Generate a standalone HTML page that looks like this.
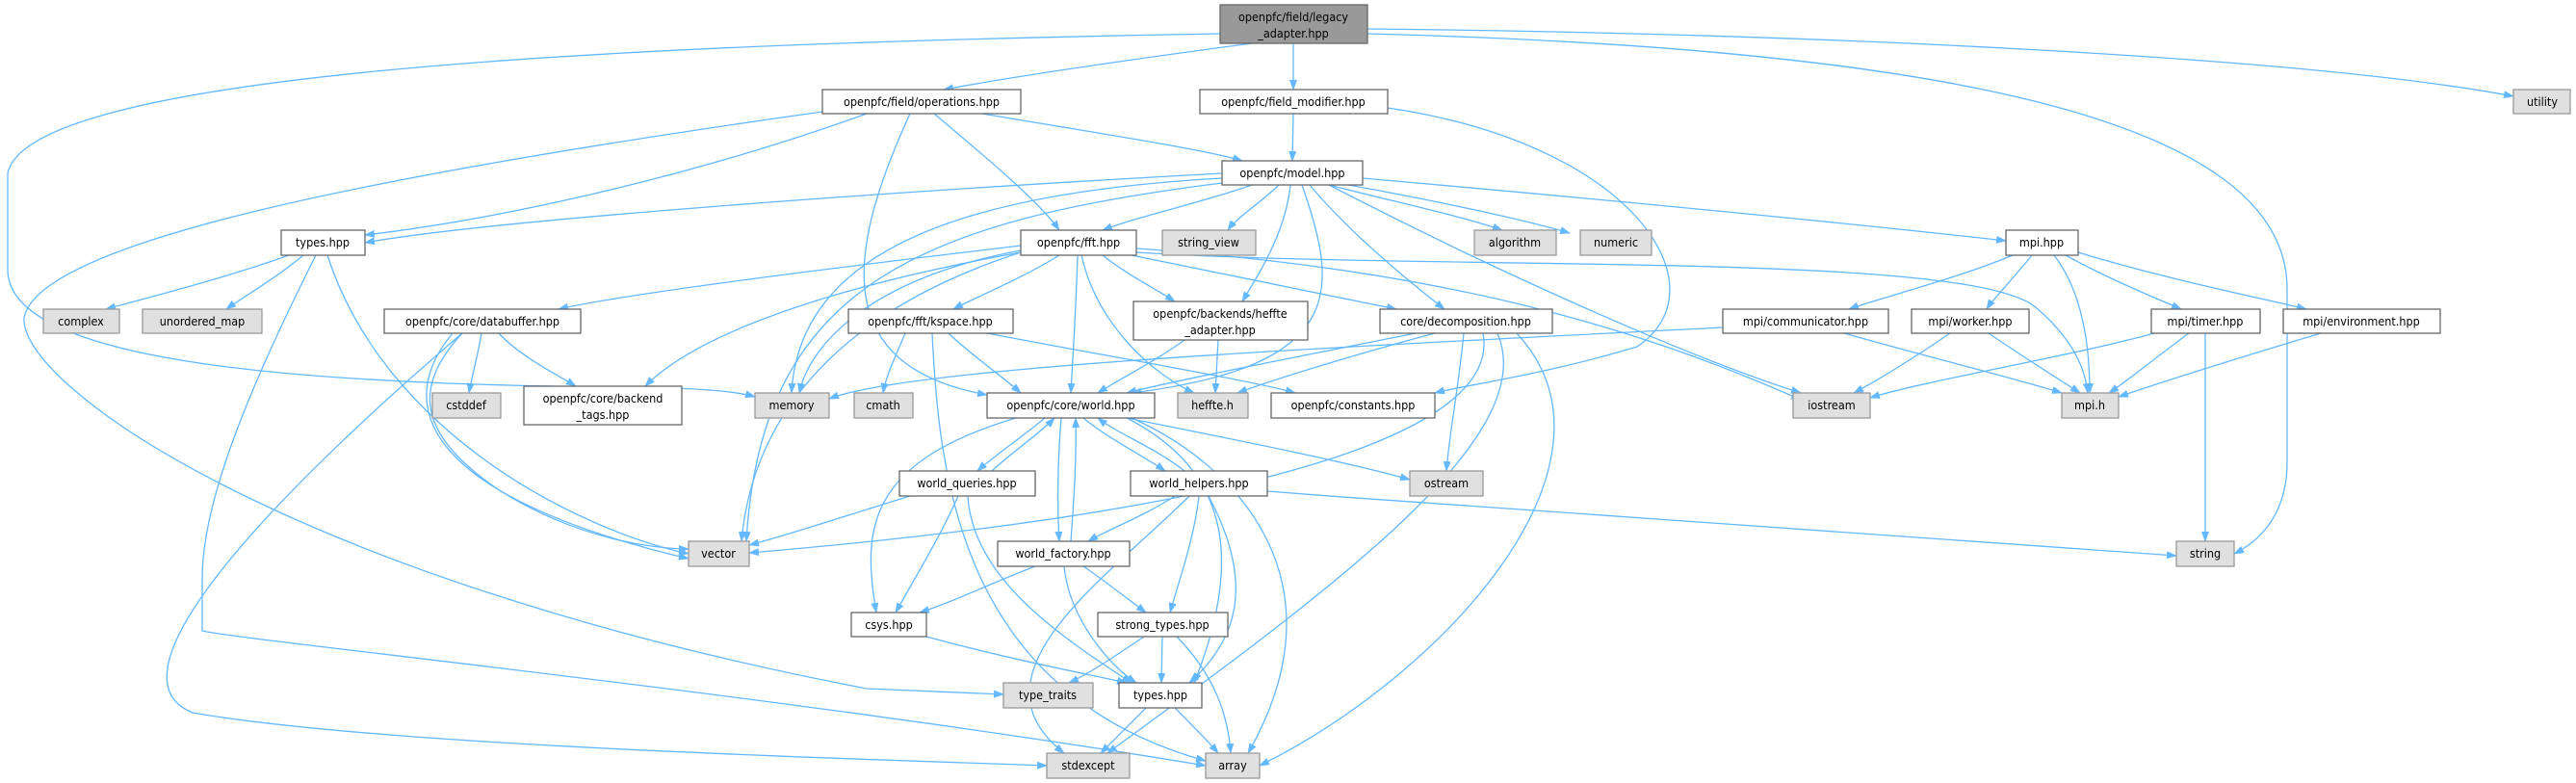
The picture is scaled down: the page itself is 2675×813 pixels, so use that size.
<!DOCTYPE html>
<html><head><meta charset="utf-8"><style>
html,body{margin:0;padding:0;background:#fff;}
svg{display:block;}
text{font-family:"DejaVu Sans Condensed","DejaVu Sans","Liberation Sans",sans-serif;font-size:12.5px;fill:#000;text-anchor:middle;}
.e{fill:none;stroke:#63b8ff;stroke-width:1.3;marker-end:url(#a);}
.n{fill:#fff;stroke:#666;stroke-width:1.3;}
.s{fill:#e0e0e0;stroke:#999;stroke-width:1.3;}
.r{fill:#999;stroke:#666;stroke-width:1.3;}
</style></head><body>
<svg width="2675" height="813" viewBox="0 0 2675 813" xmlns="http://www.w3.org/2000/svg">
<defs><marker id="a" markerWidth="11" markerHeight="8" refX="10" refY="4" orient="auto" markerUnits="userSpaceOnUse"><path d="M0,0 L11,4 L0,8 z" fill="#63b8ff"/></marker></defs>
<g>
<path class="e" d="M1300 45 C1150 65 1050 80 980 93"/>
<path class="e" d="M1343 45 L1343 93"/>
<path class="e" d="M1420 30 C1900 35 2400 60 2610 100"/>
<path class="e" d="M1420 35 C2000 50 2375 120 2375 300 L2375 480 C2375 540 2340 565 2320 575"/>
<path class="e" d="M1267 35 C700 45 30 70 8 180 L8 280 C8 390 400 400 700 403 C750 405 770 408 784 412"/>
<path class="e" d="M900 118 C700 190 500 230 379 244"/>
<path class="e" d="M1020 118 C1150 140 1250 155 1290 167"/>
<path class="e" d="M970 118 C1020 160 1080 210 1100 239"/>
<path class="e" d="M945 118 C880 260 860 380 1025 410"/>
<path class="e" d="M854 116 C400 180 40 250 25 330 C20 400 300 600 900 715 L1042 721"/>
<path class="e" d="M1343 118 L1342 167"/>
<path class="e" d="M1441 112 C1700 150 1790 300 1700 360 C1600 390 1520 400 1490 408"/>
<path class="e" d="M1269 180 C900 200 500 230 379 252"/>
<path class="e" d="M1300 192 C1250 210 1180 225 1145 239"/>
<path class="e" d="M1328 192 C1310 210 1285 225 1275 239"/>
<path class="e" d="M1380 192 C1450 210 1520 225 1560 239"/>
<path class="e" d="M1400 192 C1500 210 1590 230 1630 242"/>
<path class="e" d="M1415 185 C1700 210 1950 235 2083 250"/>
<path class="e" d="M1340 192 C1335 240 1310 280 1290 313"/>
<path class="e" d="M1360 192 C1400 240 1460 290 1500 321"/>
<path class="e" d="M1352 192 C1390 300 1400 380 1175 408"/>
<path class="e" d="M1269 185 C1000 200 830 260 822 408"/>
<path class="e" d="M1269 190 C950 230 790 300 775 562"/>
<path class="e" d="M1380 192 C1550 280 1750 370 1870 408"/>
<path class="e" d="M1060 255 C850 280 650 305 580 321"/>
<path class="e" d="M1100 265 C1060 290 1010 310 990 321"/>
<path class="e" d="M1145 265 C1170 285 1200 300 1220 313"/>
<path class="e" d="M1175 265 C1300 290 1400 310 1450 321"/>
<path class="e" d="M1119 265 C1117 330 1114 370 1112 408"/>
<path class="e" d="M1123 265 C1140 340 1200 390 1240 408"/>
<path class="e" d="M1060 260 C900 290 840 360 830 408"/>
<path class="e" d="M1060 262 C850 300 720 350 670 401"/>
<path class="e" d="M1180 262 C1500 282 2050 260 2115 320 C2150 350 2165 380 2168 408"/>
<path class="e" d="M1180 258 C1500 280 1700 340 1870 415"/>
<path class="e" d="M1060 262 C850 330 780 450 770 562"/>
<path class="e" d="M300 265 C230 290 150 310 110 321"/>
<path class="e" d="M315 265 C285 290 250 310 235 321"/>
<path class="e" d="M340 265 C400 450 600 550 715 575"/>
<path class="e" d="M328 265 C260 400 210 520 210 600 L210 655 C250 665 800 720 1252 795"/>
<path class="e" d="M500 346 C495 375 490 390 487 408"/>
<path class="e" d="M518 346 C540 370 580 390 598 401"/>
<path class="e" d="M480 346 C430 400 430 450 520 510 C600 560 680 570 715 570"/>
<path class="e" d="M470 346 C400 430 460 520 715 580"/>
<path class="e" d="M480 346 C300 500 100 700 200 740 C400 775 900 788 1087 795"/>
<path class="e" d="M940 346 C930 370 920 390 917 408"/>
<path class="e" d="M985 346 C1010 370 1040 390 1060 408"/>
<path class="e" d="M1025 346 C1150 370 1300 395 1345 408"/>
<path class="e" d="M968 346 C975 500 1000 720 1252 790"/>
<path class="e" d="M1230 353 C1200 375 1160 395 1140 408"/>
<path class="e" d="M1265 353 L1262 408"/>
<path class="e" d="M1470 346 C1350 370 1220 395 1170 408"/>
<path class="e" d="M1490 346 C1400 370 1320 395 1285 408"/>
<path class="e" d="M1520 346 C1515 400 1505 450 1502 489"/>
<path class="e" d="M1540 346 C1560 450 1300 530 778 574"/>
<path class="e" d="M1555 346 C1600 450 1400 600 1150 782"/>
<path class="e" d="M1575 346 C1700 480 1500 700 1308 795"/>
<path class="e" d="M2090 265 C2030 290 1950 310 1920 321"/>
<path class="e" d="M2110 265 C2090 290 2070 310 2063 321"/>
<path class="e" d="M2133 265 C2160 300 2170 350 2170 408"/>
<path class="e" d="M2145 265 C2190 290 2240 310 2265 321"/>
<path class="e" d="M2158 262 C2250 290 2350 310 2395 321"/>
<path class="e" d="M1789 340 C1400 360 950 380 861 414"/>
<path class="e" d="M1915 346 C2000 370 2100 395 2141 408"/>
<path class="e" d="M2025 346 C1990 370 1950 395 1925 408"/>
<path class="e" d="M2065 346 C2100 370 2140 395 2160 408"/>
<path class="e" d="M2237 346 C2150 370 2000 395 1942 413"/>
<path class="e" d="M2273 346 C2240 370 2210 395 2190 408"/>
<path class="e" d="M2290 346 L2290 562"/>
<path class="e" d="M2410 346 C2330 370 2250 395 2200 412"/>
<path class="e" d="M1085 434 C1060 455 1030 475 1015 489"/>
<path class="e" d="M1030 489 C1050 470 1080 450 1095 434"/>
<path class="e" d="M1125 434 C1150 455 1190 475 1210 489"/>
<path class="e" d="M1230 489 C1200 465 1160 450 1140 434"/>
<path class="e" d="M1102 434 C1098 480 1098 530 1100 562"/>
<path class="e" d="M1112 562 C1115 520 1118 480 1117 434"/>
<path class="e" d="M1055 434 C900 480 895 550 910 636"/>
<path class="e" d="M1170 434 C1260 480 1300 560 1240 709"/>
<path class="e" d="M1170 434 C1300 460 1400 480 1464 498"/>
<path class="e" d="M1175 434 C1280 480 1400 600 1296 782"/>
<path class="e" d="M945 515 C880 535 820 555 778 566"/>
<path class="e" d="M995 515 C975 560 950 600 930 636"/>
<path class="e" d="M1005 515 C1010 600 1100 660 1175 709"/>
<path class="e" d="M1220 515 C1190 535 1150 550 1130 562"/>
<path class="e" d="M1245 515 C1240 560 1225 600 1215 636"/>
<path class="e" d="M1255 515 C1300 600 1290 660 1235 709"/>
<path class="e" d="M1235 515 C1150 600 1000 700 1105 782"/>
<path class="e" d="M1316 510 C1700 540 2100 565 2260 577"/>
<path class="e" d="M1075 588 C1030 605 990 625 955 636"/>
<path class="e" d="M1125 588 C1150 605 1175 625 1190 636"/>
<path class="e" d="M1105 588 C1110 640 1150 690 1180 709"/>
<path class="e" d="M962 661 C1050 685 1130 700 1170 709"/>
<path class="e" d="M1188 661 C1160 680 1130 700 1110 709"/>
<path class="e" d="M1207 661 L1206 709"/>
<path class="e" d="M1222 661 C1260 700 1275 740 1278 782"/>
<path class="e" d="M1190 735 C1170 755 1155 770 1143 782"/>
<path class="e" d="M1220 735 C1240 755 1255 770 1265 782"/>
</g>
<g>
<rect class="r" x="1267" y="5" width="153" height="40"/><text x="1343" y="22">openpfc/field/legacy</text><text x="1343" y="39">_adapter.hpp</text>
<rect class="n" x="854" y="93" width="206" height="25"/><text x="957" y="110">openpfc/field/operations.hpp</text>
<rect class="n" x="1246" y="93" width="195" height="25"/><text x="1343" y="110">openpfc/field_modifier.hpp</text>
<rect class="s" x="2610" y="93" width="59" height="25"/><text x="2640" y="110">utility</text>
<rect class="n" x="1269" y="167" width="146" height="25"/><text x="1342" y="184">openpfc/model.hpp</text>
<rect class="n" x="292" y="239" width="87" height="26"/><text x="335" y="256">types.hpp</text>
<rect class="n" x="1060" y="239" width="120" height="26"/><text x="1120" y="256">openpfc/fft.hpp</text>
<rect class="s" x="1207" y="239" width="97" height="26"/><text x="1255" y="256">string_view</text>
<rect class="s" x="1531" y="239" width="85" height="26"/><text x="1573" y="256">algorithm</text>
<rect class="s" x="1641" y="239" width="74" height="26"/><text x="1678" y="256">numeric</text>
<rect class="n" x="2083" y="239" width="75" height="26"/><text x="2120" y="256">mpi.hpp</text>
<rect class="s" x="45" y="321" width="79" height="25"/><text x="84" y="338">complex</text>
<rect class="s" x="148" y="321" width="124" height="25"/><text x="210" y="338">unordered_map</text>
<rect class="n" x="399" y="321" width="204" height="25"/><text x="501" y="338">openpfc/core/databuffer.hpp</text>
<rect class="n" x="881" y="321" width="171" height="25"/><text x="966" y="338">openpfc/fft/kspace.hpp</text>
<rect class="n" x="1177" y="313" width="181" height="40"/><text x="1267" y="330">openpfc/backends/heffte</text><text x="1267" y="347">_adapter.hpp</text>
<rect class="n" x="1433" y="321" width="179" height="25"/><text x="1522" y="338">core/decomposition.hpp</text>
<rect class="n" x="1789" y="321" width="172" height="25"/><text x="1875" y="338">mpi/communicator.hpp</text>
<rect class="n" x="1985" y="321" width="122" height="25"/><text x="2046" y="338">mpi/worker.hpp</text>
<rect class="n" x="2234" y="321" width="113" height="25"/><text x="2290" y="338">mpi/timer.hpp</text>
<rect class="n" x="2371" y="321" width="163" height="25"/><text x="2452" y="338">mpi/environment.hpp</text>
<rect class="s" x="449" y="408" width="71" height="26"/><text x="484" y="425">cstddef</text>
<rect class="n" x="544" y="401" width="164" height="40"/><text x="626" y="418">openpfc/core/backend</text><text x="626" y="435">_tags.hpp</text>
<rect class="s" x="784" y="408" width="77" height="26"/><text x="822" y="425">memory</text>
<rect class="s" x="887" y="408" width="61" height="26"/><text x="917" y="425">cmath</text>
<rect class="n" x="1025" y="408" width="174" height="26"/><text x="1112" y="425">openpfc/core/world.hpp</text>
<rect class="s" x="1223" y="408" width="73" height="26"/><text x="1259" y="425">heffte.h</text>
<rect class="n" x="1320" y="408" width="170" height="26"/><text x="1405" y="425">openpfc/constants.hpp</text>
<rect class="s" x="1862" y="408" width="80" height="26"/><text x="1902" y="425">iostream</text>
<rect class="s" x="2141" y="408" width="59" height="26"/><text x="2170" y="425">mpi.h</text>
<rect class="n" x="934" y="489" width="141" height="26"/><text x="1004" y="506">world_queries.hpp</text>
<rect class="n" x="1174" y="489" width="142" height="26"/><text x="1245" y="506">world_helpers.hpp</text>
<rect class="s" x="1464" y="489" width="76" height="26"/><text x="1502" y="506">ostream</text>
<rect class="s" x="715" y="562" width="63" height="26"/><text x="746" y="579">vector</text>
<rect class="n" x="1036" y="562" width="137" height="26"/><text x="1104" y="579">world_factory.hpp</text>
<rect class="s" x="2260" y="562" width="60" height="26"/><text x="2290" y="579">string</text>
<rect class="n" x="884" y="636" width="78" height="25"/><text x="923" y="653">csys.hpp</text>
<rect class="n" x="1140" y="636" width="135" height="25"/><text x="1207" y="653">strong_types.hpp</text>
<rect class="s" x="1042" y="709" width="93" height="26"/><text x="1088" y="726">type_traits</text>
<rect class="n" x="1162" y="709" width="86" height="26"/><text x="1205" y="726">types.hpp</text>
<rect class="s" x="1087" y="782" width="86" height="26"/><text x="1130" y="799">stdexcept</text>
<rect class="s" x="1252" y="782" width="56" height="26"/><text x="1280" y="799">array</text>
</g>
</svg>
</body></html>
